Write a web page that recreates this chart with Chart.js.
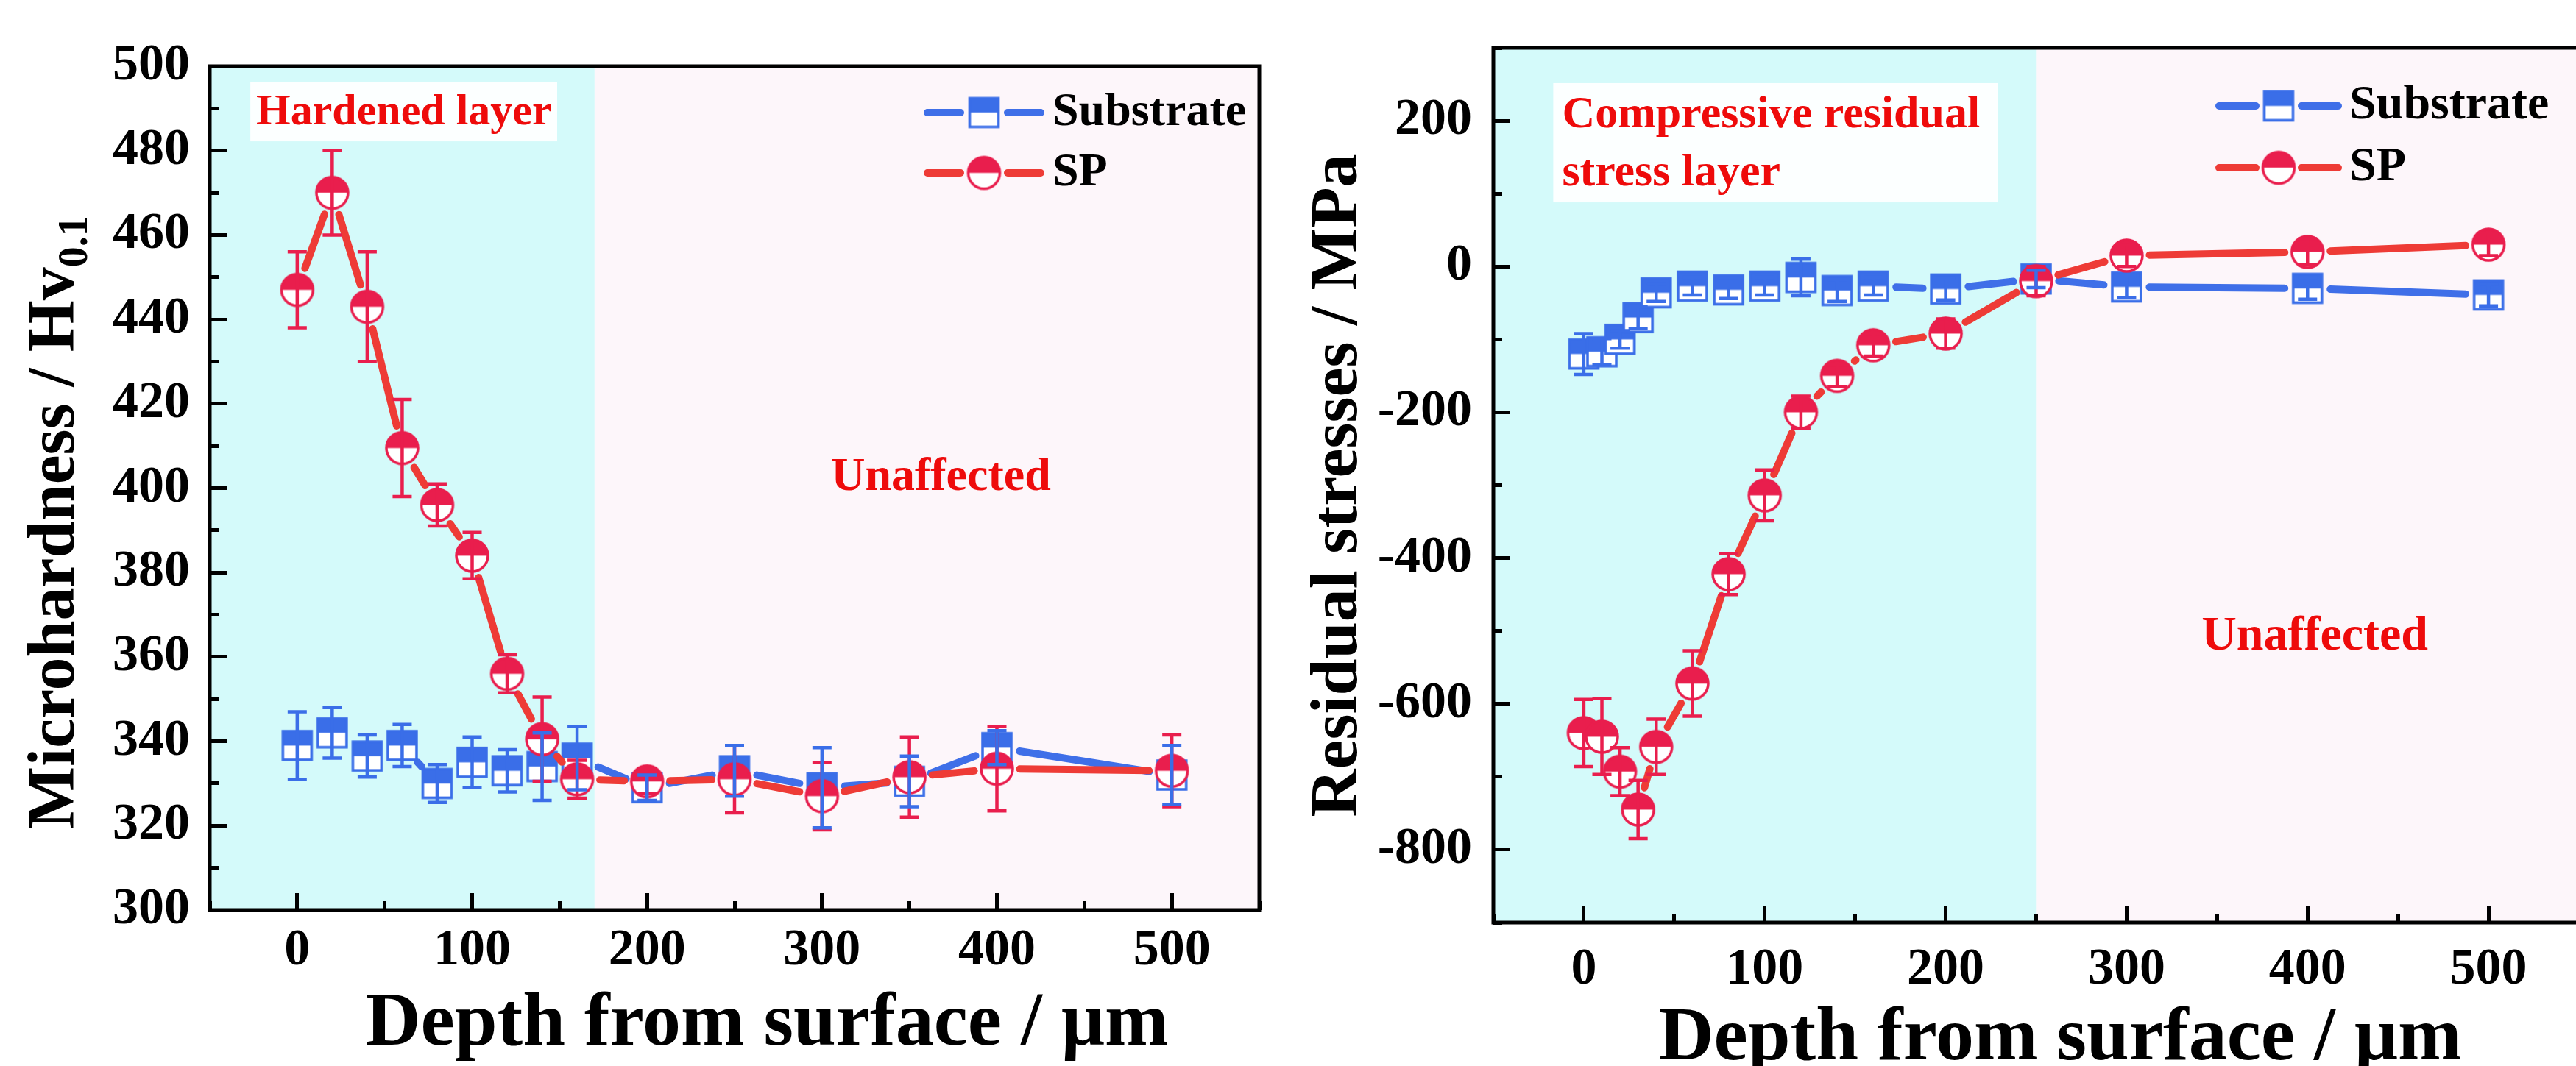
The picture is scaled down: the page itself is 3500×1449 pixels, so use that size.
<!DOCTYPE html>
<html><head><meta charset="utf-8">
<script src="https://cdn.jsdelivr.net/npm/chart.js@4.4.1/dist/chart.umd.min.js"></script>
<style>
html,body{margin:0;padding:0;background:#fff;}
#wrap{position:relative;width:3500px;height:1449px;overflow:hidden;background:#fff;}
canvas{position:absolute;top:0;}
#c1{left:0;} #c2{left:1750px;}
</style></head><body>
<div id="wrap"><canvas id="c1" width="1750" height="1449"></canvas><canvas id="c2" width="1760" height="1449"></canvas></div>
<script>
// ---------------- data ----------------
const seriesNames = ['Substrate', 'SP'];

const hvDepth = [0, 20, 40, 60, 80, 100, 120, 140, 160, 200, 250, 300, 350, 400, 500];
const hvSubstrate = [339, 342, 336.5, 339, 330, 335, 333, 334, 336, 329, 333, 329, 330.5, 338.5, 332];
const hvSubstrateErr = [8, 6, 5, 5, 4.5, 6, 5, 8, 7.5, 3, 6, 9.5, 6, 4, 7];
const hvSP = [447, 470, 443, 409.5, 396, 384, 356, 340.5, 331, 330.5, 331, 327, 331.5, 333.5, 333];
const hvSPErr = [9, 10, 13, 11.5, 5, 5.5, 4.5, 10, 4.5, 3, 8, 8, 9.5, 10, 8.5];

const rsDepth = [0, 10, 20, 30, 40, 60, 80, 100, 120, 140, 160, 200, 250, 300, 400, 500];
const rsSubstrate = [-120, -117, -100, -70, -36, -27, -32, -27, -15, -33, -27, -31, -17, -28, -30, -39];
const rsSubstrateErr = [28, 18, 12, 15, 12, 12, 12, 12, 25, 15, 12, 15, 12, 15, 15, 15];
const rsSP = [-640, -645, -693, -745, -659, -572, -422, -314, -200, -150, -108, -92, -20, 15, 20, 30];
const rsSPErr = [46, 52, 33, 40, 38, 45, 28, 35, 22, 15, 15, 20, 20, 15, 18, 15];

const depthTickLabels = [0, 100, 200, 300, 400, 500];
const hvTickLabels = [300, 320, 340, 360, 380, 400, 420, 440, 460, 480, 500];
const rsTickLabels = [-800, -600, -400, -200, 0, 200];

// ---------------- styles ----------------
const FONT = "'Liberation Serif', 'Times New Roman', serif";
const RED_M = '#e91e4d', RED_L = '#ee3b36', BLUE_M = '#3a6ee8', BLUE_L = '#3f6fe8';
const TXT_RED = '#ee0b0b', CYAN = '#d4fafa', PINK = '#fdf6fa';
const LINE_W = 10, GAP = 31;

function halfCircle(r, color, lw) {
  const s = Math.ceil(2 * r + lw + 2);
  const c = document.createElement('canvas'); c.width = s; c.height = s;
  const g = c.getContext('2d'); const m = s / 2;
  g.fillStyle = '#fff'; g.beginPath(); g.arc(m, m, r, 0, 2 * Math.PI); g.fill();
  g.fillStyle = color; g.beginPath(); g.arc(m, m, r, Math.PI, 2 * Math.PI); g.closePath(); g.fill();
  g.strokeStyle = color; g.lineWidth = lw; g.beginPath(); g.arc(m, m, r, 0, 2 * Math.PI); g.stroke();
  return c;
}
function halfSquare(a, color, lw) {
  const s = Math.ceil(a + lw + 2);
  const c = document.createElement('canvas'); c.width = s; c.height = s;
  const g = c.getContext('2d'); const o = (s - a) / 2;
  g.fillStyle = '#fff'; g.fillRect(o, o, a, a);
  g.fillStyle = color; g.fillRect(o, o, a, a / 2);
  g.strokeStyle = color; g.lineWidth = lw; g.strokeRect(o, o, a, a);
  return c;
}
const circImg = halfCircle(21.5, RED_M, 3.5);
const sqImg = halfSquare(39, BLUE_M, 3.5);

// line segments leave a small gap around each symbol
function segLen(ctx) { return Math.hypot(ctx.p1.x - ctx.p0.x, ctx.p1.y - ctx.p0.y); }
const gapSegment = (color) => ({
  borderDash: ctx => { const d = Math.max(segLen(ctx) - 2 * GAP, 0.5); return [d, 2 * GAP + 5000 + ctx.p0DataIndex * 0.01]; },
  borderDashOffset: () => -GAP,
  borderColor: ctx => segLen(ctx) - 2 * GAP > 2 ? color : 'rgba(0,0,0,0)'
});

// ---------------- plugins ----------------
const bgPlugin = {
  id: 'bg',
  beforeDraw(chart, args, o) {
    const { ctx, chartArea: a, scales: { x, y } } = chart;
    const b = x.getPixelForValue(o.boundary);
    ctx.save();
    ctx.fillStyle = CYAN; ctx.fillRect(a.left, a.top, b - a.left, a.bottom - a.top);
    ctx.fillStyle = PINK; ctx.fillRect(b, a.top, a.right - b, a.bottom - a.top);
    (o.notes || []).forEach(n => {
      if (n.box) {
        const x1 = x.getPixelForValue(n.box[0]), x2 = x.getPixelForValue(n.box[1]);
        const y1 = y.getPixelForValue(n.box[2]), y2 = y.getPixelForValue(n.box[3]);
        ctx.fillStyle = 'rgba(255,255,255,0.93)';
        ctx.fillRect(x1, y1, x2 - x1, y2 - y1);
      }
      ctx.fillStyle = TXT_RED;
      ctx.font = 'bold ' + n.size + 'px ' + FONT;
      ctx.textAlign = n.align || 'center'; ctx.textBaseline = 'middle';
      n.lines.forEach((t, i) => ctx.fillText(t, x.getPixelForValue(n.x), y.getPixelForValue(n.y[i])));
    });
    ctx.restore();
  }
};

const errPlugin = {
  id: 'err',
  afterDatasetsDraw(chart) {
    const { ctx, scales: { x, y } } = chart;
    ctx.save();
    chart.data.datasets.forEach(ds => {
      if (!ds.errors) return;
      ctx.strokeStyle = ds.errColor; ctx.lineWidth = 4.5; ctx.lineCap = 'butt'; ctx.setLineDash([]);
      ds.data.forEach((p, i) => {
        const e = ds.errors[i]; const px = x.getPixelForValue(p.x);
        const t = y.getPixelForValue(p.y + e), b = y.getPixelForValue(p.y - e);
        ctx.beginPath();
        ctx.moveTo(px, t); ctx.lineTo(px, b);
        ctx.moveTo(px - 13, t); ctx.lineTo(px + 13, t);
        ctx.moveTo(px - 13, b); ctx.lineTo(px + 13, b);
        ctx.stroke();
      });
    });
    ctx.restore();
  }
};

const framePlugin = {
  id: 'frame',
  afterDraw(chart, args, o) {
    const { ctx, chartArea: a } = chart;
    ctx.save();
    ctx.setLineDash([]);
    ctx.strokeStyle = '#000'; ctx.lineWidth = 5;
    ctx.strokeRect(a.left, a.top, a.right - a.left, a.bottom - a.top);
    // legend
    const L = o.legend;
    const items = [[seriesNames[0], sqImg, BLUE_L], [seriesNames[1], circImg, RED_L]];
    items.forEach((it, i) => {
      const ly = L.ys[i];
      ctx.strokeStyle = it[2]; ctx.lineWidth = LINE_W; ctx.lineCap = 'round';
      ctx.beginPath();
      ctx.moveTo(L.seg1[0], ly); ctx.lineTo(L.seg1[1], ly);
      ctx.moveTo(L.seg2[0], ly); ctx.lineTo(L.seg2[1], ly);
      ctx.stroke();
      ctx.drawImage(it[1], L.mx - it[1].width / 2, ly - it[1].height / 2);
      ctx.fillStyle = '#000';
      ctx.font = 'bold ' + L.size + 'px ' + FONT;
      ctx.textAlign = 'left'; ctx.textBaseline = 'middle';
      ctx.fillText(it[0], L.tx, ly);
    });
    // axis titles
    const T = o.titles;
    ctx.fillStyle = '#000';
    ctx.font = 'bold ' + T.xSize + 'px ' + FONT;
    ctx.textAlign = 'center'; ctx.textBaseline = 'alphabetic';
    ctx.fillText(T.x, T.xcx, T.xby);
    ctx.save();
    ctx.translate(T.ybx, T.ycy);
    ctx.rotate(-Math.PI / 2);
    const mainF = 'bold ' + T.ySize + 'px ' + FONT;
    const subF = 'bold ' + Math.round(T.ySize * 0.62) + 'px ' + FONT;
    ctx.font = mainF; const w1 = ctx.measureText(T.y).width;
    let w2 = 0;
    if (T.ySub) { ctx.font = subF; w2 = ctx.measureText(T.ySub).width; }
    const start = -(w1 + w2) / 2;
    ctx.textAlign = 'left';
    ctx.font = mainF; ctx.fillText(T.y, start, 0);
    if (T.ySub) { ctx.font = subF; ctx.fillText(T.ySub, start + w1, T.ySize * 0.2); }
    ctx.restore();
    ctx.restore();
  }
};

function noPad(s) { s.paddingTop = 0; s.paddingBottom = 0; s.paddingLeft = 0; s.paddingRight = 0; }

// ---------------- chart builder ----------------
function buildChart(id, c) {
  const xLab = new Set(depthTickLabels);
  const yLab = new Set(c.yLabels);
  const tickFont = { family: FONT, size: 70, weight: 'bold' };
  const ds = (name, ys, errs, mColor, lColor, img, order) => ({
    label: name, data: c.x.map((v, i) => ({ x: v, y: ys[i] })), errors: errs, errColor: mColor,
    showLine: true, borderColor: lColor, backgroundColor: lColor, borderWidth: LINE_W, tension: 0,
    borderCapStyle: 'round', borderJoinStyle: 'round', pointStyle: img, pointRadius: 22, order: order,
    segment: gapSegment(lColor)
  });
  return new Chart(document.getElementById(id), {
    type: 'scatter',
    data: {
      datasets: [
        ds(seriesNames[1], c.sp, c.spErr, RED_M, RED_L, circImg, 0),
        ds(seriesNames[0], c.sub, c.subErr, BLUE_M, BLUE_L, sqImg, 1)
      ]
    },
    options: {
      responsive: false, animation: false, devicePixelRatio: 1,
      layout: { autoPadding: false, padding: { top: c.top, right: c.right, left: 0, bottom: 0 } },
      plugins: {
        legend: { display: false }, tooltip: { enabled: false }, title: { display: false },
        bg: { boundary: c.boundary, notes: c.notes },
        frame: { legend: c.legend, titles: c.titles }
      },
      scales: {
        x: {
          type: 'linear', min: -50, max: 550,
          ticks: { stepSize: 50, autoSkip: false, maxRotation: 0, minRotation: 0, padding: c.xPad, font: tickFont, color: '#000',
            callback: v => xLab.has(v) ? String(v) : '' },
          grid: { drawOnChartArea: false, drawTicks: true, tickLength: -23, tickWidth: 5, tickColor: '#000',
            tickBorderDash: ctx => (ctx.tick && xLab.has(ctx.tick.value)) ? [] : [12, 100] },
          border: { display: false },
          afterFit: s => { s.height = c.xH; noPad(s); }
        },
        y: {
          type: 'linear', min: c.ymin, max: c.ymax,
          ticks: { stepSize: c.ystep, autoSkip: false, padding: c.yPad, font: tickFont, color: '#000',
            callback: v => yLab.has(v) ? String(v) : '' },
          grid: { drawOnChartArea: false, drawTicks: true, tickLength: -23, tickWidth: 5, tickColor: '#000',
            tickBorderDash: ctx => (ctx.tick && yLab.has(ctx.tick.value)) ? [] : [0, 11, 12, 100] },
          border: { display: false },
          afterFit: s => { s.width = c.yW; noPad(s); }
        }
      }
    },
    plugins: [bgPlugin, errPlugin, framePlugin]
  });
}

buildChart('c1', {
  x: hvDepth, sp: hvSP, spErr: hvSPErr, sub: hvSubstrate, subErr: hvSubstrateErr,
  ymin: 300, ymax: 500, ystep: 10, yLabels: hvTickLabels,
  top: 90, right: 39, yW: 285, xH: 212, xPad: 37, yPad: 50, boundary: 170,
  notes: [
    { box: [-26.8, 148.6, 496.3, 482.2], x: 61, y: [489], lines: ['Hardened layer'], size: 60 },
    { x: 368, y: [402.4], lines: ['Unaffected'], size: 64 }
  ],
  legend: { ys: [153, 235], seg1: [1260, 1305], seg2: [1369, 1414], mx: 1337, tx: 1430, size: 64 },
  titles: { x: 'Depth from surface / \u03bcm', xSize: 104, xcx: 1042, xby: 1420,
            y: 'Microhardness / Hv', ySub: '0.1', ySize: 90, ybx: 100, ycy: 710 }
});

buildChart('c2', {
  x: rsDepth, sp: rsSP, spErr: rsSPErr, sub: rsSubstrate, subErr: rsSubstrateErr,
  ymin: -900, ymax: 300, ystep: 100, yLabels: rsTickLabels,
  top: 65, right: 6, yW: 279, xH: 195, xPad: 46, yPad: 52, boundary: 250,
  notes: [
    { box: [-16.9, 229, 251.6, 88], x: -12, y: [207, 127.4], lines: ['Compressive residual', 'stress layer'], size: 62, align: 'left' },
    { x: 404, y: [-508], lines: ['Unaffected'], size: 66 }
  ],
  legend: { ys: [144, 228], seg1: [1265, 1315], seg2: [1377, 1427], mx: 1346, tx: 1442, size: 66 },
  titles: { x: 'Depth from surface / \u03bcm', xSize: 104, xcx: 1049, xby: 1440,
            y: 'Residual stresses / MPa', ySub: '', ySize: 90, ybx: 93, ycy: 660 }
});
</script>
</body></html>
